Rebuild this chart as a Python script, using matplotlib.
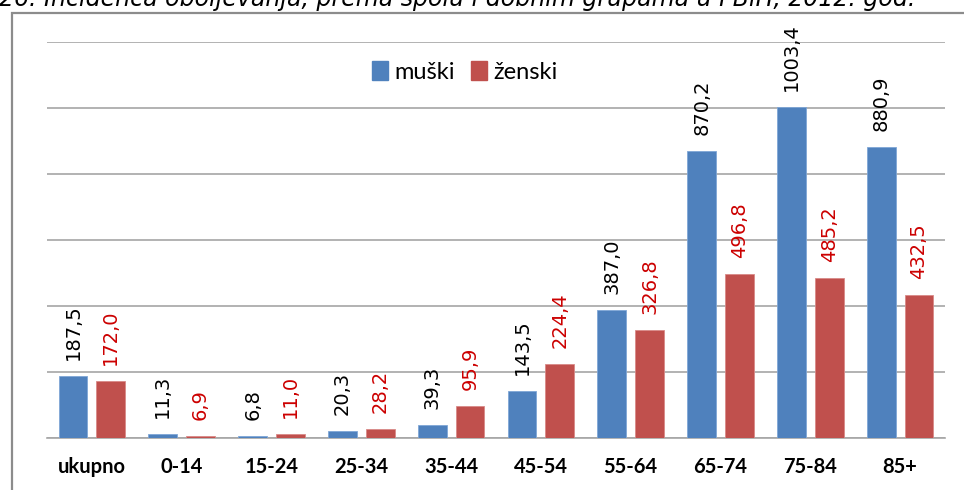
import numpy as np
import matplotlib
matplotlib.use('Agg')
import matplotlib.pyplot as plt
from matplotlib.patches import Rectangle, Patch

# data
groups = ['ukupno', '0-14', '15-24', '25-34', '35-44', '45-54', '55-64', '65-74', '75-84', '85+']
muski = [187.5, 11.3, 6.8, 20.3, 39.3, 143.5, 387.0, 870.2, 1003.4, 880.9]
zenski = [172.0, 6.9, 11.0, 28.2, 95.9, 224.4, 326.8, 496.8, 485.2, 432.5]
series_names = ['muški', 'ženski']
title = '26. Incidenca oboljevanja, prema spolu i dobnim grupama u FBiH, 2012. god.'

blue = '#4F81BD'
red = '#C0504D'
label_red = '#CC0000'

fig = plt.figure(figsize=(9.64, 4.90), dpi=100)
W, H = 964, 490

# outer chart frame (cut off on the right and bottom)
fig.patches.append(Rectangle((12 / W, -0.1), 1.0, 1 - 13 / H + 0.1, transform=fig.transFigure,
                             fill=False, edgecolor='#8C8C8C', linewidth=1.6))

# title sits mostly above the crop, like in the reference
fig.text(915 / W, 1 - 6 / H, title, ha='right', va='baseline', fontsize=17,
         style='italic', color='black')

ax = fig.add_axes([47 / W, 52 / H, 898 / W, 396 / H])

x = np.arange(len(groups))
width = 0.32
off = 0.21
b1 = ax.bar(x - off, muski, width, color=blue, edgecolor='#7FA6D6', linewidth=0.6, zorder=3)
b2 = ax.bar(x + off, zenski, width, color=red, edgecolor='#D98A88', linewidth=0.6, zorder=3)

for rect, v in zip(b1, muski):
    ax.annotate(f'{v:.1f}'.replace('.', ','), (rect.get_x() + rect.get_width() / 2, v),
                xytext=(0, 11.5), textcoords='offset points', rotation=90,
                ha='center', va='bottom', fontsize=14, color='black')
for rect, v in zip(b2, zenski):
    ax.annotate(f'{v:.1f}'.replace('.', ','), (rect.get_x() + rect.get_width() / 2, v),
                xytext=(0, 11.5), textcoords='offset points', rotation=90,
                ha='center', va='bottom', fontsize=14, color=label_red)

ax.set_xlim(-0.5, len(groups) - 0.5)
ax.set_ylim(0, 1200)
ax.set_yticks(np.arange(0, 1201, 200))
ax.set_yticklabels([])
ax.yaxis.grid(True, color='#A6A6A6', linewidth=1.2, zorder=0)
ax.tick_params(axis='y', length=0)
ax.set_xticks(x)
ax.set_xticklabels(groups, fontsize=14.5, fontweight='bold', family='Lato')
ax.tick_params(axis='x', length=0, pad=14)
for s in ['top', 'right', 'left']:
    ax.spines[s].set_visible(False)
ax.spines['bottom'].set_color('#A6A6A6')
ax.spines['bottom'].set_linewidth(1.2)

handles = [Patch(color=blue), Patch(color=red)]
ax.legend(handles, series_names, loc='center', bbox_to_anchor=(0.465, 0.924), ncol=2,
          frameon=False, handlelength=0.7, handleheight=0.8, handletextpad=0.25,
          columnspacing=0.7, prop={'family': 'Lato', 'size': 17})

fig.savefig('out.png', dpi=100)
